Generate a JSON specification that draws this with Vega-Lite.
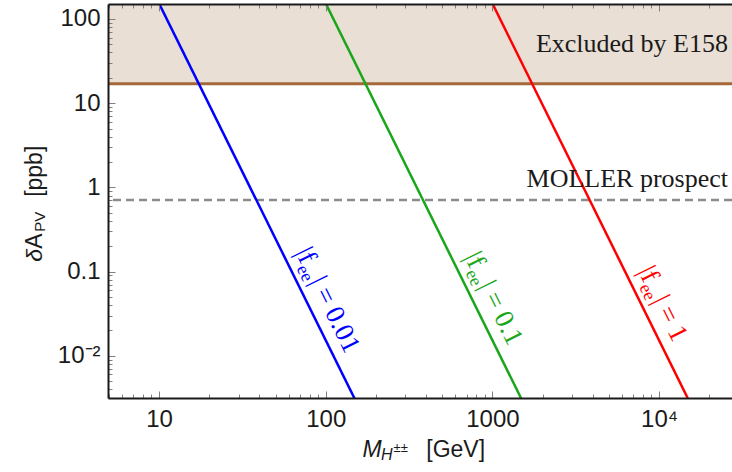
{
  "$schema": "https://vega.github.io/schema/vega-lite/v6.json",
  "width": 624,
  "height": 394,
  "autosize": {"type": "none"},
  "padding": {"left": 108, "top": 4, "right": 0, "bottom": 74},
  "background": "white",
  "config": {"view": {"stroke": null}},
  "data": {"values": [{}]},
  "datasets": {
    "curves": [
      {"f": "0.01", "M": 10, "A": 153.0},
      {"f": "0.01", "M": 150, "A": 0.003022},
      {"f": "0.1", "M": 100, "A": 153.0},
      {"f": "0.1", "M": 1500, "A": 0.003022},
      {"f": "1", "M": 1000, "A": 153.0},
      {"f": "1", "M": 15000, "A": 0.003022}
    ],
    "tags": [
      {"f": "0.01", "M": 56.8, "A": 0.1466, "rest": "| = 0.01"},
      {"f": "0.1", "M": 586.1, "A": 0.1298, "rest": "| = 0.1"},
      {"f": "1", "M": 6463, "A": 0.0877, "rest": "| = 1"}
    ],
    "excluded": [{"lo": 17, "hi": 1000}]
  },
  "layer": [
    {
      "data": {"name": "excluded"},
      "mark": {"type": "rect", "color": "#e9dfd5", "clip": true},
      "encoding": {
        "y": {"field": "lo", "type": "quantitative", "scale": {"type": "log", "domain": [0.00315, 150.6], "nice": false}},
        "y2": {"field": "hi"}
      }
    },
    {
      "mark": {"type": "rule", "color": "#a5683a", "strokeWidth": 3},
      "encoding": {
        "y": {"datum": 17, "type": "quantitative", "scale": {"type": "log", "domain": [0.00315, 150.6], "nice": false}}
      }
    },
    {
      "mark": {"type": "rule", "color": "#8c8c8c", "strokeWidth": 2.5, "strokeDash": [8, 5]},
      "encoding": {
        "y": {"datum": 0.71, "type": "quantitative", "scale": {"type": "log", "domain": [0.00315, 150.6], "nice": false}}
      }
    },
    {
      "data": {"name": "curves"},
      "mark": {"type": "line", "strokeWidth": 2.5, "clip": true},
      "encoding": {
        "x": {
          "field": "M", "type": "quantitative",
          "scale": {"type": "log", "domain": [4.94, 27400], "nice": false},
          "axis": {
            "orient": "bottom", "title": null, "zindex": 2,
            "values": [5,6,7,8,9,10,20,30,40,50,60,70,80,90,100,200,300,400,500,600,700,800,900,1000,2000,3000,4000,5000,6000,7000,8000,9000,10000,20000],
            "labelExpr": "datum.value == 10 ? '10' : datum.value == 100 ? '100' : datum.value == 1000 ? '1000' : datum.value == 10000 ? '10⁴' : ''",
            "labelOverlap": false, "labelFlush": false,
            "labelFont": "Liberation Sans", "labelFontSize": 24, "labelColor": "#1a1a1a", "labelPadding": 16,
            "tickSize": {"condition": {"test": "abs(log(datum.value)/LN10 - round(log(datum.value)/LN10)) < 0.001", "value": -7}, "value": -4},
            "tickColor": "#808080", "tickWidth": 1,
            "domainColor": "#1a1a1a", "domainWidth": 2, "grid": false
          }
        },
        "y": {
          "field": "A", "type": "quantitative",
          "scale": {"type": "log", "domain": [0.00315, 150.6], "nice": false},
          "axis": {
            "orient": "left", "title": null, "zindex": 2,
            "values": [0.004,0.005,0.006,0.007,0.008,0.009,0.01,0.02,0.03,0.04,0.05,0.06,0.07,0.08,0.09,0.1,0.2,0.3,0.4,0.5,0.6,0.7,0.8,0.9,1,2,3,4,5,6,7,8,9,10,20,30,40,50,60,70,80,90,100],
            "labelExpr": "datum.value == 100 ? '100' : datum.value == 10 ? '10' : datum.value == 1 ? '1' : datum.value == 0.1 ? '0.1' : datum.value == 0.01 ? '10⁻²' : ''",
            "labelOverlap": false, "labelFlush": false,
            "labelFont": "Liberation Sans", "labelFontSize": 24, "labelColor": "#1a1a1a", "labelPadding": 15,
            "tickSize": {"condition": {"test": "abs(log(datum.value)/LN10 - round(log(datum.value)/LN10)) < 0.001", "value": -7}, "value": -4},
            "tickColor": "#808080", "tickWidth": 1,
            "domainColor": "#1a1a1a", "domainWidth": 2, "grid": false
          }
        },
        "color": {
          "field": "f", "type": "nominal",
          "scale": {"domain": ["0.01", "0.1", "1"], "range": ["#0000ff", "#1aa61a", "#ff0000"]},
          "legend": null
        }
      }
    },
    {
      "data": {"name": "tags"},
      "mark": {"type": "text", "text": "|f", "font": "Liberation Serif", "fontSize": 27, "angle": 63.7, "align": "left", "baseline": "alphabetic", "dy": -11.5},
      "encoding": {
        "x": {
          "field": "M", "type": "quantitative",
          "scale": {"type": "log", "domain": [4.94, 27400], "nice": false},
          "axis": {
            "orient": "top", "title": null, "zindex": 2, "labels": false,
            "values": [5,6,7,8,9,10,20,30,40,50,60,70,80,90,100,200,300,400,500,600,700,800,900,1000,2000,3000,4000,5000,6000,7000,8000,9000,10000,20000],
            "tickSize": {"condition": {"test": "abs(log(datum.value)/LN10 - round(log(datum.value)/LN10)) < 0.001", "value": -7}, "value": -4},
            "tickColor": "#808080", "tickWidth": 1,
            "domainColor": "#1a1a1a", "domainWidth": 2, "grid": false
          }
        },
        "y": {"field": "A", "type": "quantitative", "scale": {"type": "log", "domain": [0.00315, 150.6], "nice": false}},
        "color": {
          "field": "f", "type": "nominal",
          "scale": {"domain": ["0.01", "0.1", "1"], "range": ["#0000ff", "#1aa61a", "#ff0000"]},
          "legend": null
        }
      }
    },
    {
      "data": {"name": "tags"},
      "mark": {"type": "text", "text": "ee", "font": "Liberation Serif", "fontSize": 18, "angle": 63.7, "align": "left", "baseline": "alphabetic", "dx": 15, "dy": -5.5},
      "encoding": {
        "x": {"field": "M", "type": "quantitative", "scale": {"type": "log", "domain": [4.94, 27400], "nice": false}, "axis": null},
        "y": {"field": "A", "type": "quantitative", "scale": {"type": "log", "domain": [0.00315, 150.6], "nice": false}},
        "color": {
          "field": "f", "type": "nominal",
          "scale": {"domain": ["0.01", "0.1", "1"], "range": ["#0000ff", "#1aa61a", "#ff0000"]},
          "legend": null
        }
      }
    },
    {
      "data": {"name": "tags"},
      "mark": {"type": "text", "font": "Liberation Serif", "fontSize": 27, "angle": 63.7, "align": "left", "baseline": "alphabetic", "dx": 32.5, "dy": -11.5},
      "encoding": {
        "x": {"field": "M", "type": "quantitative", "scale": {"type": "log", "domain": [4.94, 27400], "nice": false}, "axis": null},
        "y": {"field": "A", "type": "quantitative", "scale": {"type": "log", "domain": [0.00315, 150.6], "nice": false}},
        "text": {"field": "rest"},
        "color": {
          "field": "f", "type": "nominal",
          "scale": {"domain": ["0.01", "0.1", "1"], "range": ["#0000ff", "#1aa61a", "#ff0000"]},
          "legend": null
        }
      }
    },
    {
      "mark": {"type": "text", "text": "Excluded by E158", "font": "Liberation Serif", "fontSize": 26, "color": "#1a1a1a", "align": "right", "baseline": "alphabetic", "dx": -4},
      "encoding": {
        "x": {"datum": 27400, "type": "quantitative", "scale": {"type": "log", "domain": [4.94, 27400], "nice": false}, "axis": null},
        "y": {"datum": 40, "type": "quantitative", "scale": {"type": "log", "domain": [0.00315, 150.6], "nice": false}}
      }
    },
    {
      "mark": {"type": "text", "text": "MOLLER prospect", "font": "Liberation Serif", "fontSize": 26, "color": "#1a1a1a", "align": "right", "baseline": "alphabetic", "dx": -4},
      "encoding": {
        "x": {"datum": 27400, "type": "quantitative", "scale": {"type": "log", "domain": [4.94, 27400], "nice": false}, "axis": null},
        "y": {"datum": 1, "type": "quantitative", "scale": {"type": "log", "domain": [0.00315, 150.6], "nice": false}}
      }
    },
    {
      "mark": {"type": "text", "text": "M", "font": "Liberation Sans", "fontStyle": "italic", "fontSize": 23, "color": "#1a1a1a", "align": "left", "baseline": "alphabetic", "dx": -57, "dy": 58.7},
      "encoding": {
        "x": {"datum": 365.8, "type": "quantitative", "scale": {"type": "log", "domain": [4.94, 27400], "nice": false}, "axis": null},
        "y": {"datum": 0.00315, "type": "quantitative", "scale": {"type": "log", "domain": [0.00315, 150.6], "nice": false}}
      }
    },
    {
      "mark": {"type": "text", "text": "H", "font": "Liberation Sans", "fontStyle": "italic", "fontSize": 16, "color": "#1a1a1a", "align": "left", "baseline": "alphabetic", "dx": -38.5, "dy": 61.5},
      "encoding": {
        "x": {"datum": 365.8, "type": "quantitative", "scale": {"type": "log", "domain": [4.94, 27400], "nice": false}, "axis": null},
        "y": {"datum": 0.00315, "type": "quantitative", "scale": {"type": "log", "domain": [0.00315, 150.6], "nice": false}}
      }
    },
    {
      "mark": {"type": "text", "text": "±±", "font": "Liberation Sans", "fontSize": 13, "color": "#1a1a1a", "align": "left", "baseline": "alphabetic", "dx": -26, "dy": 54},
      "encoding": {
        "x": {"datum": 365.8, "type": "quantitative", "scale": {"type": "log", "domain": [4.94, 27400], "nice": false}, "axis": null},
        "y": {"datum": 0.00315, "type": "quantitative", "scale": {"type": "log", "domain": [0.00315, 150.6], "nice": false}}
      }
    },
    {
      "mark": {"type": "text", "text": "[GeV]", "font": "Liberation Sans", "fontSize": 23, "color": "#1a1a1a", "align": "left", "baseline": "alphabetic", "dx": 6.7, "dy": 58.7},
      "encoding": {
        "x": {"datum": 365.8, "type": "quantitative", "scale": {"type": "log", "domain": [4.94, 27400], "nice": false}, "axis": null},
        "y": {"datum": 0.00315, "type": "quantitative", "scale": {"type": "log", "domain": [0.00315, 150.6], "nice": false}}
      }
    },
    {
      "mark": {"type": "text", "text": "δ", "font": "Liberation Sans", "fontStyle": "italic", "fontSize": 23, "color": "#1a1a1a", "align": "left", "baseline": "alphabetic", "angle": 270, "dx": -61, "dy": -66},
      "encoding": {
        "x": {"datum": 4.94, "type": "quantitative", "scale": {"type": "log", "domain": [4.94, 27400], "nice": false}, "axis": null},
        "y": {"datum": 0.6916, "type": "quantitative", "scale": {"type": "log", "domain": [0.00315, 150.6], "nice": false}}
      }
    },
    {
      "mark": {"type": "text", "text": "A", "font": "Liberation Sans", "fontSize": 23, "color": "#1a1a1a", "align": "left", "baseline": "alphabetic", "angle": 270, "dx": -48, "dy": -66},
      "encoding": {
        "x": {"datum": 4.94, "type": "quantitative", "scale": {"type": "log", "domain": [4.94, 27400], "nice": false}, "axis": null},
        "y": {"datum": 0.6916, "type": "quantitative", "scale": {"type": "log", "domain": [0.00315, 150.6], "nice": false}}
      }
    },
    {
      "mark": {"type": "text", "text": "PV", "font": "Liberation Sans", "fontSize": 15, "color": "#1a1a1a", "align": "left", "baseline": "alphabetic", "angle": 270, "dx": -31, "dy": -63},
      "encoding": {
        "x": {"datum": 4.94, "type": "quantitative", "scale": {"type": "log", "domain": [4.94, 27400], "nice": false}, "axis": null},
        "y": {"datum": 0.6916, "type": "quantitative", "scale": {"type": "log", "domain": [0.00315, 150.6], "nice": false}}
      }
    },
    {
      "mark": {"type": "text", "text": "[ppb]", "font": "Liberation Sans", "fontSize": 23, "color": "#1a1a1a", "align": "left", "baseline": "alphabetic", "angle": 270, "dx": 4, "dy": -66},
      "encoding": {
        "x": {"datum": 4.94, "type": "quantitative", "scale": {"type": "log", "domain": [4.94, 27400], "nice": false}, "axis": null},
        "y": {"datum": 0.6916, "type": "quantitative", "scale": {"type": "log", "domain": [0.00315, 150.6], "nice": false}}
      }
    }
  ],
  "resolve": {"axis": {"x": "independent"}}
}
